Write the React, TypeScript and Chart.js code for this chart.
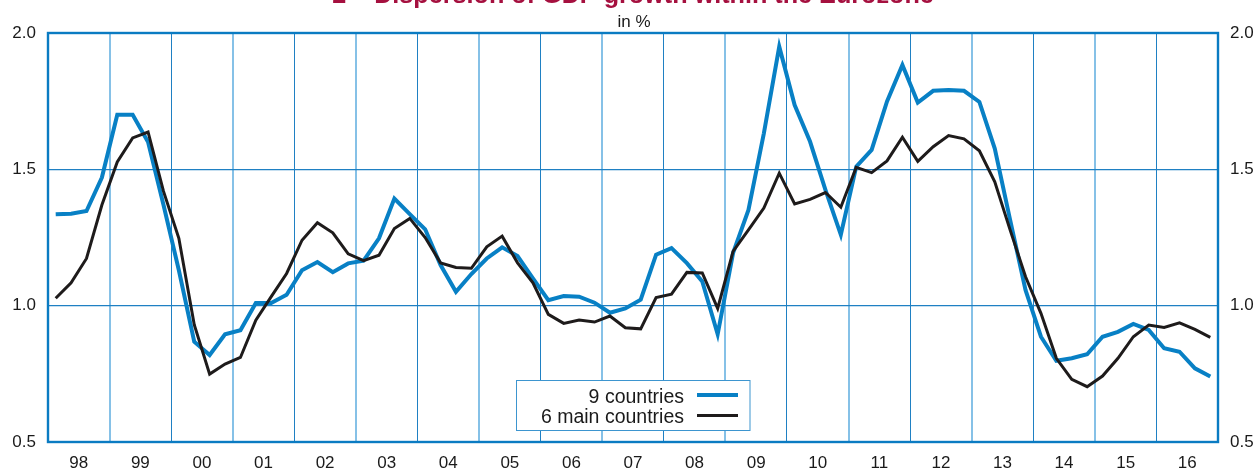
import { useEffect, useRef } from "react";
import { Chart, registerables } from "chart.js";

Chart.register(...registerables);

const titleText = "2 – Dispersion of GDP growth within the Eurozone";
const subtitleText = "in %";
const legendLabels = ["9 countries", "6 main countries"];

const yearLabels = ["98", "99", "00", "01", "02", "03", "04", "05", "06", "07", "08", "09", "10", "11", "12", "13", "14", "15", "16"];
const yTicks = [0.5, 1.0, 1.5, 2.0];

// Quarterly values, 1998 Q1 .. 2016 Q4
const countries9 = [
  1.335, 1.337, 1.347, 1.47, 1.70, 1.70, 1.60, 1.37, 1.13, 0.868,
  0.819, 0.895, 0.91, 1.01, 1.01, 1.04, 1.13, 1.16, 1.123, 1.155,
  1.165, 1.247, 1.393, 1.336, 1.28, 1.149, 1.051, 1.116, 1.173, 1.214,
  1.182, 1.10, 1.02, 1.035, 1.033, 1.011, 0.974, 0.99, 1.022, 1.187,
  1.211, 1.156, 1.089, 0.895, 1.193, 1.351, 1.632, 1.95, 1.736, 1.602,
  1.425, 1.26, 1.51, 1.571, 1.749, 1.883, 1.745, 1.788, 1.791, 1.788,
  1.747, 1.576, 1.314, 1.057, 0.886, 0.798, 0.807, 0.822, 0.886, 0.904,
  0.933, 0.911, 0.844, 0.831, 0.77, 0.74,
];

const countries6 = [
  1.027, 1.084, 1.173, 1.369, 1.527, 1.615, 1.637, 1.42, 1.247, 0.93,
  0.749, 0.786, 0.81, 0.947, 1.033, 1.118, 1.24, 1.304, 1.267, 1.19,
  1.165, 1.185, 1.283, 1.32, 1.25, 1.157, 1.14, 1.137, 1.216, 1.255,
  1.157, 1.084, 0.968, 0.935, 0.947, 0.94, 0.962, 0.919, 0.915, 1.03,
  1.042, 1.122, 1.12, 0.99, 1.199, 1.278, 1.358, 1.486, 1.373, 1.39,
  1.415, 1.361, 1.507, 1.488, 1.531, 1.618, 1.529, 1.583, 1.624, 1.612,
  1.568, 1.454, 1.277, 1.106, 0.972, 0.807, 0.73, 0.703, 0.742, 0.807,
  0.886, 0.929, 0.92, 0.937, 0.913, 0.884,
];

const BLUE = "#0880c5";
const BLACK = "#1e1b1b";
const GRID_DARK = "#1f80c3";
const GRID_LIGHT = "#86c1e7";
const FONT = '"Liberation Sans", Arial, Helvetica, sans-serif';

const toPoints = (vals: number[]) => vals.map((v, i) => ({ x: i / 4 + 0.125, y: v }));

const decorPlugin = {
  id: "decor",
  afterDraw(chart: any) {
    const { ctx, chartArea: a } = chart;
    ctx.save();
    // plot frame
    ctx.strokeStyle = "#0a7bc2";
    ctx.lineWidth = 2.4;
    ctx.strokeRect(a.left, a.top, a.right - a.left, a.bottom - a.top);

    const cx = (a.left + a.right) / 2;
    // title (cut off at the top, as in the original)
    ctx.font = `bold 20px ${FONT}`;
    const w = ctx.measureText(titleText).width;
    const size = (20 * 602) / w;
    ctx.font = `bold ${size}px ${FONT}`;
    ctx.fillStyle = "#a5103f";
    ctx.textAlign = "center";
    ctx.textBaseline = "alphabetic";
    ctx.fillText(titleText, cx, 3);

    // subtitle
    ctx.font = `17px ${FONT}`;
    ctx.fillStyle = "#1a1a1a";
    ctx.fillText(subtitleText, cx + 1, 27);

    // legend
    const bx = 516.5, by = 380.5, bw = 233.5, bh = 50;
    ctx.fillStyle = "#fff";
    ctx.fillRect(bx, by, bw, bh);
    ctx.strokeStyle = "#3d95cf";
    ctx.lineWidth = 1;
    ctx.strokeRect(bx, by, bw, bh);
    ctx.font = `19.5px ${FONT}`;
    ctx.fillStyle = "#1a1a1a";
    ctx.textAlign = "right";
    ctx.fillText(legendLabels[0], 684, 403);
    ctx.fillText(legendLabels[1], 684, 422.5);
    ctx.lineCap = "butt";
    ctx.strokeStyle = BLUE;
    ctx.lineWidth = 4;
    ctx.beginPath();
    ctx.moveTo(697, 395);
    ctx.lineTo(738, 395);
    ctx.stroke();
    ctx.strokeStyle = BLACK;
    ctx.lineWidth = 3;
    ctx.beginPath();
    ctx.moveTo(697, 415.5);
    ctx.lineTo(738, 415.5);
    ctx.stroke();
    ctx.restore();
  },
};

export default function App() {
  const canvasRef = useRef<HTMLCanvasElement | null>(null);

  useEffect(() => {
    if (!canvasRef.current) return;
    const tickFont = { family: FONT, size: 17 };
    const chart = new Chart(canvasRef.current, {
      type: "line",
      data: {
        datasets: [
          {
            label: legendLabels[0],
            data: toPoints(countries9),
            borderColor: BLUE,
            borderWidth: 4,
            pointRadius: 0,
            tension: 0,
            borderJoinStyle: "miter",
            order: 2,
          },
          {
            label: legendLabels[1],
            data: toPoints(countries6),
            borderColor: BLACK,
            borderWidth: 3,
            pointRadius: 0,
            tension: 0,
            borderJoinStyle: "miter",
            order: 1,
          },
        ],
      },
      plugins: [decorPlugin],
      options: {
        animation: false,
        responsive: true,
        maintainAspectRatio: false,
        layout: { padding: { top: 33, left: 0, right: 0, bottom: 0 } },
        plugins: {
          legend: { display: false },
          title: { display: false },
          tooltip: { enabled: false },
        },
        scales: {
          x: {
            type: "linear",
            min: 0,
            max: yearLabels.length,
            afterBuildTicks: (s: any) => {
              s.ticks = yearLabels.map((_, i) => ({ value: i + 0.5 }));
            },
            afterFit: (s: any) => {
              s.height = 27;
            },
            ticks: {
              autoSkip: false,
              maxRotation: 0,
              padding: 11,
              color: "#1a1a1a",
              font: tickFont,
              callback: (_v: any, i: number) => yearLabels[i],
            },
            grid: {
              offset: true,
              drawTicks: false,
              color: (c: any) => (c.index % 2 === 1 ? GRID_LIGHT : GRID_DARK),
              lineWidth: (c: any) => (c.index % 2 === 1 ? 2 : 1),
            },
            border: { display: false },
          },
          y: {
            type: "linear",
            position: "left",
            min: 0.5,
            max: 2.0,
            afterBuildTicks: (s: any) => {
              s.ticks = yTicks.map((v) => ({ value: v }));
            },
            afterFit: (s: any) => {
              s.width = 48;
            },
            ticks: {
              padding: 12,
              color: "#1a1a1a",
              font: tickFont,
              callback: (v: any) => Number(v).toFixed(1),
            },
            grid: { drawTicks: false, color: GRID_DARK, lineWidth: 1.2 },
            border: { display: false },
          },
          y2: {
            type: "linear",
            position: "right",
            min: 0.5,
            max: 2.0,
            afterBuildTicks: (s: any) => {
              s.ticks = yTicks.map((v) => ({ value: v }));
            },
            afterFit: (s: any) => {
              s.width = 38;
            },
            ticks: {
              padding: 12,
              color: "#1a1a1a",
              font: tickFont,
              callback: (v: any) => Number(v).toFixed(1),
            },
            grid: { display: false, drawTicks: false },
            border: { display: false },
          },
        },
      },
    } as any);
    return () => chart.destroy();
  }, []);

  return (
    <div style={{ position: "absolute", left: 0, top: 0, width: 1256, height: 469, background: "#fff" }}>
      <canvas ref={canvasRef} />
    </div>
  );
}
